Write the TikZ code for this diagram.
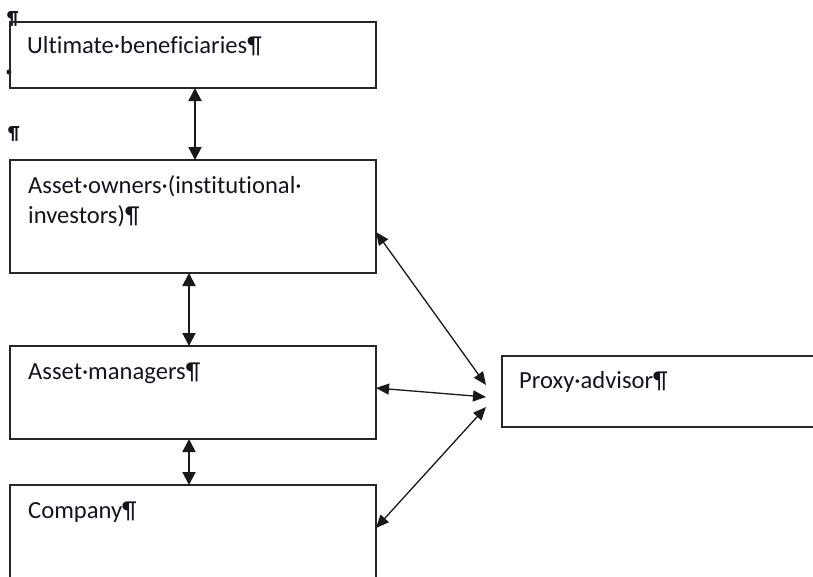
\documentclass[tikz,border=0pt]{standalone}
\usepackage{fontspec}
\setmainfont{Carlito}[Ligatures={NoCommon,NoRequired,NoContextual}]
\usetikzlibrary{arrows.meta,calc}
\definecolor{txt}{RGB}{20,20,30}
\begin{document}
\begin{tikzpicture}[x=1pt,y=-1pt,
  box/.style={draw=black!85,line width=1.5pt,inner sep=0pt,outer sep=0pt,anchor=north west},
  lbl/.style={anchor=base west,inner sep=0pt,text=txt,font=\fontsize{24.6}{30}\selectfont},
  pil/.style={anchor=base west,inner sep=0pt,text=txt,font=\fontsize{19}{20}\selectfont\bfseries},
  conn/.style={{Triangle[length=13pt,width=13pt]}-{Triangle[length=13pt,width=13pt]},line width=1.9pt,draw=black!90},
  diag/.style={{Triangle[length=13pt,width=11pt]}-{Triangle[length=13pt,width=11pt]},line width=1.3pt,draw=black!90}]
\useasboundingbox (0,0) rectangle (813,576);
\begin{scope}
\clip (0,0) rectangle (813,576);
% pilcrows at margin
\node[pil] (pa) at (7,24) {¶};
\node[pil] (pb) at (8,139) {¶};
\fill[txt] (9,72) circle (2.5pt);
% boxes
\node[box,minimum width=366pt,minimum height=66pt] (ub) at (10,22) {};
\node[box,minimum width=366pt,minimum height=113pt] (ao) at (10,160) {};
\node[box,minimum width=366pt,minimum height=93pt] (am) at (10,346) {};
\node[box,minimum width=366pt,minimum height=120pt] (co) at (10,485) {};
\node[box,minimum width=330pt,minimum height=71pt] (px) at (502,356) {};
% texts
\node[lbl] (tub) at (27,53) {Ultimate·beneficiaries¶};
\node[lbl] (tao1) at (28,193) {Asset·owners·(institutional·};
\node[lbl] (tao2) at (28,223) {investors)¶};
\node[lbl] (tam) at (28,379) {Asset·managers¶};
\node[lbl] (tco) at (28,518) {Company¶};
\node[lbl] (tpx) at (519,388) {Proxy·advisor¶};
% convergence points near proxy advisor
\coordinate (q1) at ($(px.north west)+(-16,29)$);
\coordinate (q2) at ($(px.north west)+(-16,41)$);
\coordinate (q3) at ($(px.north west)+(-16,51)$);
% vertical connectors
\draw[conn] ($(ub.south west)+(185,0)$) -- ($(ao.north west)+(185,0)$);
\draw[conn] ($(ao.south west)+(179,0)$) -- ($(am.north west)+(179,0)$);
\draw[conn] ($(am.south west)+(179,0)$) -- ($(co.north west)+(179,0)$);
% diagonal connectors
\draw[diag] ($(ao.north east)+(0,72)$) -- (q1);
\draw[diag] ($(am.north east)+(0,42)$) -- (q2);
\draw[diag] ($(co.north east)+(0,43)$) -- (q3);
\end{scope}
\end{tikzpicture}
\end{document}
